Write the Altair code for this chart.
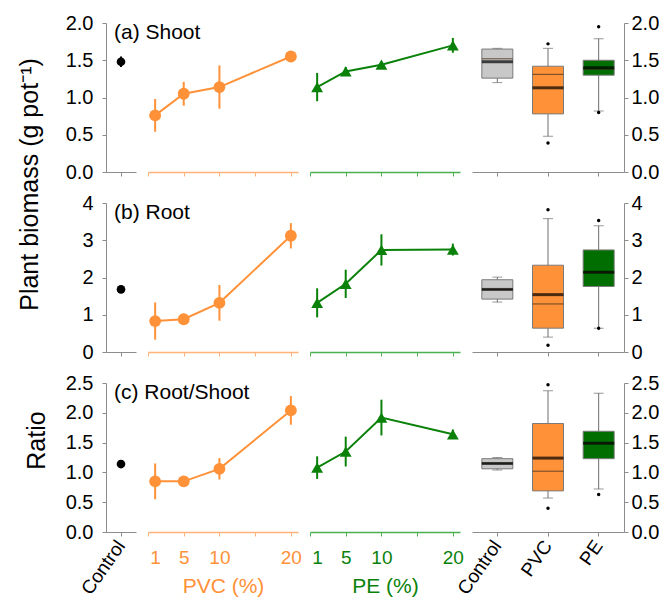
import altair as alt
import pandas as pd

FONT = "Liberation Sans"
ORANGE = "#FF9138"
ORANGE_AX = "#FFB27A"
GREEN = "#0A820A"
GREEN_AX = "#4CB050"
GREEN_BOX = "#006E00"
GRAY_BOX = "#C8C8C8"
AXIS_GRAY = "#8C8C8C"

# ---------------- data ----------------
conc = [1, 5, 10, 20]
panel_labels = ["(a) Shoot", "(b) Root", "(c) Root/Shoot"]
y_max = [2.0, 4.0, 2.5]
y_ticks = [[0, 0.5, 1.0, 1.5, 2.0], [0, 1, 2, 3, 4], [0, 0.5, 1.0, 1.5, 2.0, 2.5]]
y_format = [".1f", "d", ".1f"]

control_mean = [1.48, 1.68, 1.14]
control_err = [0.07, 0.08, 0.04]

pvc_mean = [[0.76, 1.05, 1.14, 1.55], [0.83, 0.88, 1.32, 3.12], [0.85, 0.85, 1.06, 2.04]]
pvc_err = [[0.22, 0.16, 0.29, 0.03], [0.50, 0.15, 0.48, 0.34], [0.30, 0.03, 0.18, 0.24]]
pe_mean = [[1.14, 1.35, 1.44, 1.70], [1.32, 1.83, 2.74, 2.75], [1.08, 1.35, 1.92, 1.64]]
pe_err = [[0.19, 0.06, 0.03, 0.10], [0.39, 0.38, 0.42, 0.16], [0.19, 0.25, 0.30, 0.08]]

box_groups = ["Control", "PVC", "PE"]
box_q1 = [[1.26, 0.78, 1.30], [1.42, 0.64, 1.76], [1.06, 0.69, 1.23]]
box_q3 = [[1.65, 1.42, 1.50], [1.94, 2.33, 2.74], [1.23, 1.82, 1.69]]
box_mean = [[1.48, 1.13, 1.40], [1.68, 1.54, 2.14], [1.15, 1.24, 1.49]]
box_median = [[1.52, 1.31, 1.38], [1.68, 1.29, 2.14], [1.15, 1.02, 1.49]]
box_wlo = [[1.20, 0.48, 0.82], [1.34, 0.40, 0.64], [1.04, 0.57, 0.72]]
box_whi = [[1.66, 1.66, 1.79], [2.01, 3.58, 3.39], [1.25, 2.37, 2.33]]
outlier_group = [["PVC", "PVC", "PE", "PE"], ["PVC", "PVC", "PE", "PE"], ["PVC", "PVC", "PE"]]
outlier_value = [[1.72, 0.39, 1.95, 0.80], [3.82, 0.18, 3.53, 0.64], [2.47, 0.40, 0.63]]

H = 149
LABEL_FS = 20


def make_row(i, bottom):
    ydom = [0, y_max[i]]
    yscale = alt.Scale(domain=ydom, nice=False, zero=True)

    # ---- control panel ----
    if i == 0:
        ytitle = "Plant biomass  (g pot\u207b\u00b9)"
        tx, ty = -64, 161
    elif i == 2:
        ytitle = "Ratio"
        tx, ty = -57, 57
    else:
        ytitle = None
        tx, ty = -60, 70
    yaxis_kw = dict(values=y_ticks[i], format=y_format[i], orient="left",
                    labelFontSize=LABEL_FS, tickSize=4, labelPadding=9)
    if ytitle:
        yaxis_kw.update(title=ytitle, titleFontSize=25, titleFontWeight="normal",
                        titleX=tx, titleY=ty, titleAngle=-90)
    else:
        yaxis_kw.update(title=None)
    yaxis = alt.Axis(**yaxis_kw)

    ctrl_df = pd.DataFrame({
        "grp": ["Control"],
        "m": [control_mean[i]],
        "lo": [control_mean[i] - control_err[i]],
        "hi": [control_mean[i] + control_err[i]],
        "lab": [panel_labels[i]],
        "top": [y_max[i]],
    })
    cx = alt.X("grp:N", scale=alt.Scale(domain=["Control"]),
               axis=alt.Axis(title=None, labels=bottom, labelAngle=-55,
                             labelFontSize=19, tickSize=4, labelPadding=6))
    cbase = alt.Chart(ctrl_df)
    ctrl = alt.layer(
        cbase.mark_rule(color="black", strokeWidth=2).encode(
            x=cx, y=alt.Y("lo:Q", scale=yscale, axis=yaxis), y2="hi:Q"),
        cbase.mark_point(filled=True, size=75, color="black", opacity=1).encode(
            x=cx, y=alt.Y("m:Q", scale=yscale, axis=yaxis)),
        cbase.mark_text(align="left", baseline="top", dx=-7, dy=-1,
                        fontSize=21, font=FONT, color="black").encode(
            x=cx, y=alt.Y("top:Q", scale=yscale, axis=yaxis), text="lab:N"),
    ).properties(width=30, height=H)

    # ---- concentration panels ----
    def conc_panel(means, errs, color, axcolor, labcolor, shape, title):
        df = pd.DataFrame({
            "c": conc,
            "m": means,
            "lo": [m - e for m, e in zip(means, errs)],
            "hi": [m + e for m, e in zip(means, errs)],
        })
        xaxis = alt.Axis(
            values=[0, 1, 5, 10, 15, 20],
            labelExpr="(datum.value == 0 || datum.value == 15) ? '' : datum.label",
            tickOpacity={"condition": {"test": "datum.value == 1", "value": 0}, "value": 1},
            labels=bottom, labelOverlap=False, labelFlush=False,
            domainColor=axcolor, tickColor=axcolor, labelColor=labcolor,
            titleColor=labcolor, title=title if bottom else None,
            labelFontSize=19, titleFontSize=21, titleFontWeight="normal",
            tickSize=4, domainWidth=1.5, labelPadding=12, titlePadding=8,
        )
        x = alt.X("c:Q", scale=alt.Scale(domain=[0, 21], nice=False, zero=False), axis=xaxis)
        base = alt.Chart(df)
        return alt.layer(
            base.mark_rule(color=color, strokeWidth=2).encode(
                x=x, y=alt.Y("lo:Q", scale=yscale, axis=None), y2="hi:Q"),
            base.mark_line(color=color, strokeWidth=2).encode(
                x=x, y=alt.Y("m:Q", scale=yscale, axis=None)),
            base.mark_point(filled=True, shape=shape, size=140, color=color, opacity=1).encode(
                x=x, y=alt.Y("m:Q", scale=yscale, axis=None)),
        ).properties(width=150, height=H)

    pvc = conc_panel(pvc_mean[i], pvc_err[i], ORANGE, ORANGE_AX, ORANGE, "circle", "PVC (%)")
    pe = conc_panel(pe_mean[i], pe_err[i], GREEN, GREEN_AX, GREEN, "triangle-up", "PE (%)")

    # ---- box panel ----
    bdf = pd.DataFrame({
        "grp": box_groups,
        "q1": box_q1[i], "q3": box_q3[i],
        "mean": box_mean[i], "med": box_median[i],
        "wlo": box_wlo[i], "whi": box_whi[i],
    })
    cap_df = pd.DataFrame({
        "grp": box_groups + box_groups,
        "v": box_wlo[i] + box_whi[i],
    })
    out_df = pd.DataFrame({"grp": outlier_group[i], "v": outlier_value[i]})
    raxis = alt.Axis(values=y_ticks[i], format=y_format[i], orient="right",
                     labelFontSize=LABEL_FS, tickSize=4, labelPadding=3, title=None)
    bx = alt.X("grp:N", scale=alt.Scale(domain=box_groups), sort=box_groups,
               axis=alt.Axis(title=None, labels=bottom, labelAngle=-55,
                             labelFontSize=19, tickSize=4, labelPadding=6))
    bcolor = alt.Color("grp:N", scale=alt.Scale(domain=box_groups,
                                                range=[GRAY_BOX, ORANGE, GREEN_BOX]),
                       legend=None)
    bb = alt.Chart(bdf)
    box = alt.layer(
        bb.mark_rule(color="#6E6E6E", strokeWidth=1).encode(
            x=bx, y=alt.Y("wlo:Q", scale=yscale, axis=raxis), y2="whi:Q"),
        alt.Chart(cap_df).mark_tick(color="#6E6E6E", size=10, thickness=1).encode(
            x=bx, y=alt.Y("v:Q", scale=yscale, axis=raxis)),
        bb.mark_bar(size=31, stroke="#7A7A7A", strokeWidth=1).encode(
            x=bx, y=alt.Y("q1:Q", scale=yscale, axis=raxis), y2="q3:Q", color=bcolor),
        bb.mark_tick(color="#4A3520", size=31, thickness=1.2).encode(
            x=bx, y=alt.Y("med:Q", scale=yscale, axis=raxis)),
        bb.mark_tick(color="black", size=31, thickness=3).encode(
            x=bx, y=alt.Y("mean:Q", scale=yscale, axis=raxis)),
        alt.Chart(out_df).mark_circle(color="black", size=12, opacity=1).encode(
            x=bx, y=alt.Y("v:Q", scale=yscale, axis=raxis)),
    ).properties(width=152, height=H)

    return [ctrl, pvc, pe, box]


panels = make_row(0, False) + make_row(1, False) + make_row(2, True)

chart = alt.concat(
    *panels, columns=4, spacing={"row": 31, "column": 12}, bounds="flush",
).resolve_scale(x="independent", y="independent", color="independent").properties(
    padding={"left": 17, "top": 13, "right": 0, "bottom": 0}
).configure_view(stroke=None).configure_axis(
    labelFont=FONT, titleFont=FONT, grid=False,
    domainColor=AXIS_GRAY, tickColor=AXIS_GRAY, labelColor="black", titleColor="black",
)

chart.save("out.html", embed_options={"renderer": "svg", "actions": False})
